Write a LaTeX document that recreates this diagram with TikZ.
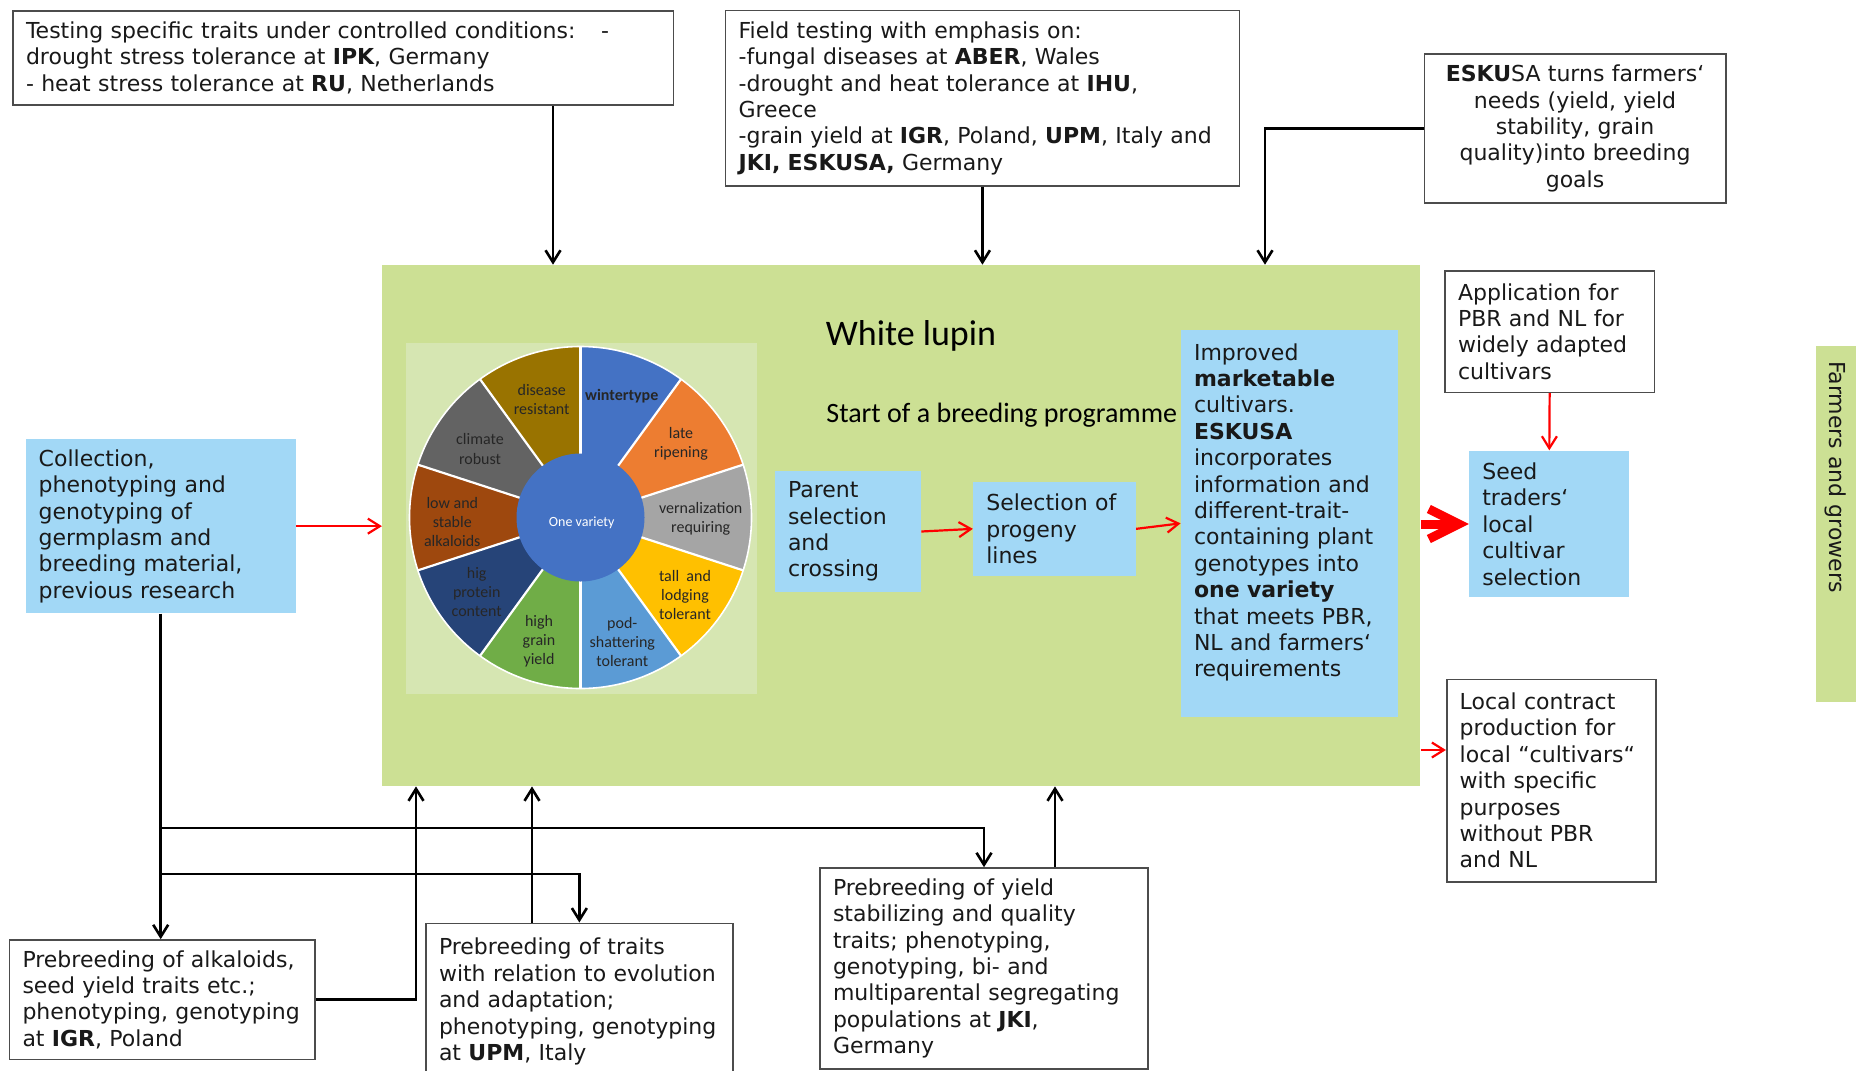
\documentclass[tikz,border=0pt]{standalone}
\usepackage{fontspec}
\setmainfont{DejaVu Sans}
\newfontfamily\carl{Carlito}
\usetikzlibrary{arrows.meta}
\definecolor{mgreen}{RGB}{204,224,148}
\definecolor{pgreen}{RGB}{214,230,178}
\definecolor{lblue}{RGB}{162,216,246}
\definecolor{wtext}{HTML}{262626}
\definecolor{cA}{HTML}{4472C4}
\definecolor{cB}{HTML}{ED7D31}
\definecolor{cC}{HTML}{A5A5A5}
\definecolor{cD}{HTML}{FFC000}
\definecolor{cE}{HTML}{5B9BD5}
\definecolor{cF}{HTML}{70AD47}
\definecolor{cG}{HTML}{264478}
\definecolor{cH}{HTML}{9E480E}
\definecolor{cI}{HTML}{636363}
\definecolor{cJ}{HTML}{997300}
\newcommand\boxfont{\fontsize{11}{13.2}\selectfont}
\newcommand\wheelfont{\carl\fontsize{8}{9.5}\selectfont}
\begin{document}
\begin{tikzpicture}[x=0.5pt,y=-0.5pt,
  wbox/.style={draw=black!70, line width=0.8pt, fill=white, inner xsep=6.5pt, inner ysep=0pt, align=left, font=\boxfont, text=black!90},
  bbox/.style={fill=lblue, inner xsep=6.5pt, inner ysep=0pt, align=left, font=\boxfont, text=black!90},
  blk/.style={draw=black, line width=1.3pt},
  blkarr/.style={blk, -{Straight Barb[length=6pt,width=7.5pt]}},
  redarr/.style={draw=red, line width=1.1pt, -{Straight Barb[length=6pt,width=7.5pt]}},
  bigred/.style={draw=red, line width=4.5pt, -{Straight Barb[length=15pt,width=15pt]}},
  wlab/.style={font=\wheelfont, text=wtext, align=center, inner sep=0pt},
]
\useasboundingbox (0,0) rectangle (1856,1070);
\fill[white] (0,0) rectangle (1856,1070);

% main green area
\node[fill=mgreen, inner sep=0pt, minimum width=519.05pt, minimum height=260.45pt] (green) at (901.35,525.55) {};
\node[fill=pgreen, inner sep=0pt, minimum width=175.5pt, minimum height=175.25pt] (panel) at (581.5,518.25) {};

% wheel
\coordinate (wc) at (580.5,517.5);
\begin{scope}[shift={(wc)}]
  \foreach \a/\c in {90/cA, 54/cB, 18/cC, -18/cD, -54/cE, -90/cF, -126/cG, -162/cH, -198/cI, -234/cJ}{
    \fill[\c] (0,0) -- (\a:85.5pt) arc[start angle=\a, end angle=\a-36, radius=85.5pt] -- cycle;
  }
  \foreach \a in {90,54,18,-18,-54,-90,-126,-162,-198,-234}{
    \draw[white, line width=1.1pt] (0,0) -- (\a:85.5pt);
  }
  \draw[white, line width=0.8pt] (0,0) circle[radius=85.5pt];
\end{scope}
\node[circle, fill=cA, inner sep=0pt, minimum size=64pt] (core) at (wc) {};
\node[text=white, font=\carl\fontsize{7}{8}\selectfont, inner sep=0pt] (corelabel) at (581.7,523) {One variety};

\node[wlab] (l1) at (541.7,399.3) {disease\\resistant};
\node[wlab] (l2) at (621.7,396) {\textbf{wintertype}};
\node[wlab] (l3) at (681,444) {late\\ripening};
\node[wlab] (l4) at (700.7,519.3) {vernalization\\requiring};
\node[wlab] (l5) at (685,595) {tall\ \ and\\lodging\\tolerant};
\node[wlab] (l6) at (622.3,642.3) {pod-\\shattering\\tolerant};
\node[wlab] (l7) at (539,641.7) {high\\grain\\yield};
\node[wlab] (l8) at (476.7,592.3) {hig\\protein\\content};
\node[wlab] (l9) at (452.3,522.3) {low and\\stable\\alkaloids};
\node[wlab] (l10) at (480,449) {climate\\robust};

% titles
\node[font=\carl\fontsize{18}{21}\selectfont, inner sep=0pt] (title) at (911,335.5) {White lupin};
\node[font=\carl\fontsize{14}{17}\selectfont, inner sep=0pt, anchor=west] (start) at (826,415) {Start of a breeding programme};

% blue boxes
\node[bbox, minimum width=73pt, minimum height=60.5pt, text width=60pt] (parent) at (848,531.5) {Parent\\selection\\and\\crossing};
\node[bbox, minimum width=81.2pt, minimum height=47.15pt, text width=68.2pt] (sel) at (1054.5,528.85) {Selection of\\progeny\\lines};
\node[bbox, minimum width=108.65pt, minimum height=193.35pt, text width=95.65pt] (imp) at (1289.65,523.35) {Improved\\\textbf{marketable}\\cultivars.\\\textbf{ESKUSA}\\incorporates\\information and\\different-trait-\\containing plant\\genotypes into\\\textbf{one variety}\\that meets PBR,\\NL and farmers‘\\requirements\\\mbox{}};
\node[bbox, minimum width=135pt, minimum height=87.15pt, text width=122pt] (coll) at (160.7,526.15) {Collection,\\phenotyping and\\genotyping of\\germplasm and\\breeding material,\\previous research};
\node[bbox, minimum width=80pt, minimum height=73.3pt, text width=67pt] (seed) at (1549.3,524) {Seed\\traders‘\\local\\cultivar\\selection};

% farmers strip
\node[fill=mgreen, inner sep=0pt, minimum width=22pt, minimum height=178pt] (farmstrip) at (1838,524) {};
\node[rotate=-90, font=\boxfont, text=black!90, inner sep=0pt] (farmers) at (1836,477) {Farmers and growers};

% white boxes
\node[wbox, minimum width=330.25pt, minimum height=47.15pt, text width=317.25pt] (test) at (343.25,57.9) {Testing specific traits under controlled conditions: \ \ -\\drought stress tolerance at \textbf{IPK}, Germany\\- heat stress tolerance at \textbf{RU}, Netherlands};
\node[wbox, minimum width=256.85pt, minimum height=87.55pt, text width=243.85pt] (field) at (982.45,98.25) {Field testing with emphasis on:\\-fungal diseases at \textbf{ABER}, Wales\\-drought and heat tolerance at \textbf{IHU},\\Greece\\-grain yield at \textbf{IGR}, Poland, \textbf{UPM}, Italy and\\\textbf{JKI, ESKUSA,} Germany};
\node[wbox, align=center, minimum width=150.7pt, minimum height=74.35pt, text width=137.7pt] (esk) at (1575,128.35) {\textbf{ESKU}SA turns farmers‘\\needs (yield, yield\\stability, grain\\quality)into breeding\\goals};
\node[wbox, minimum width=104.65pt, minimum height=60.8pt, text width=91.65pt] (app) at (1549.65,331.5) {Application for\\PBR and NL for\\widely adapted\\cultivars};
\node[wbox, minimum width=104.65pt, minimum height=101.2pt, text width=91.65pt] (local) at (1551.35,780.5) {Local contract\\production for\\local “cultivars“\\with specific\\purposes\\without PBR\\and NL};
\node[wbox, minimum width=152.75pt, minimum height=59.7pt, text width=139.75pt] (alk) at (162.25,999.7) {Prebreeding of alkaloids,\\seed yield traits etc.;\\phenotyping, genotyping\\at \textbf{IGR}, Poland};
\node[wbox, minimum width=153.35pt, minimum height=78.35pt, text width=140.35pt] (traits) at (579.35,1001.65) {Prebreeding of traits\\with relation to evolution\\and adaptation;\\phenotyping, genotyping\\at \textbf{UPM}, Italy};
\node[wbox, minimum width=164pt, minimum height=100.5pt, text width=151pt] (yield) at (984,968.5) {Prebreeding of yield\\stabilizing and quality\\traits; phenotyping,\\genotyping, bi- and\\multiparental segregating\\populations at \textbf{JKI},\\Germany};

% black connectors
\draw[blkarr] (test.south -| 553,0) -- (green.north -| 553,0);
\draw[blkarr] (field.south) -- (green.north -| field.south);
\draw[blkarr] (esk.west) -| (green.north -| 1265,0);
\draw[blkarr] (coll.south) -- (coll.south |- alk.north);
\draw[blkarr] (coll.south |- 0,828) -| (yield.north);
\draw[blkarr] (coll.south |- 0,874) -| (traits.north);
\draw[blkarr] (alk.east) -| (green.south -| 416,0);
\draw[blkarr] (traits.north -| 532,0) -- (green.south -| 532,0);
\draw[blkarr] (yield.north -| 1055,0) -- (green.south -| 1055,0);

% red connectors
\draw[redarr] (coll.east) -- (coll.east -| green.west);
\draw[redarr] (parent.east) -- (sel.west);
\draw[redarr] (sel.east) -- (imp.west);
\draw[redarr] (app.south) -- (seed.north);
\draw[redarr] (green.east |- 0,750) -- (local.west |- 0,750);
\draw[bigred] (green.east |- seed.west) -- (seed.west);
\end{tikzpicture}
\end{document}
